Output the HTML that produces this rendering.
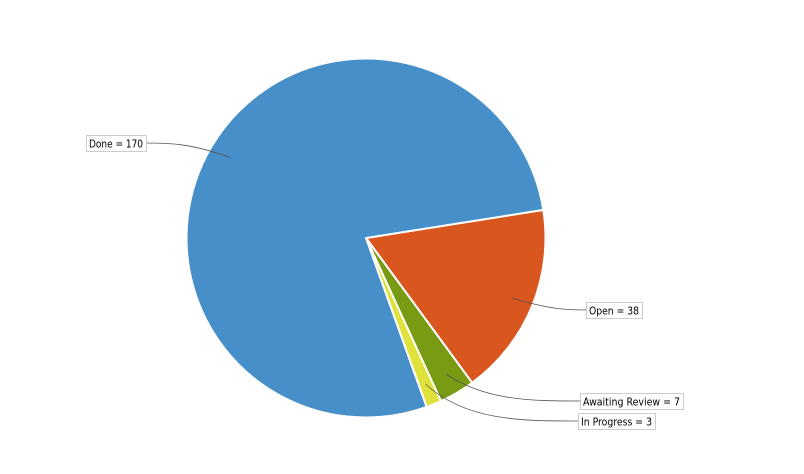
<!DOCTYPE html>
<html><head><meta charset="utf-8"><style>
body{margin:0;background:#fff}
svg{display:block}
text{font-family:"DejaVu Sans","Liberation Sans",sans-serif;font-size:11px;fill:#000}
</style></head><body>
<svg id="chart" width="804" height="474" viewBox="0 0 804 474">
<rect width="804" height="474" fill="#fff"/>
</svg>
<script>
const categories = ["Open", "Awaiting Review", "In Progress", "Done"];
const values = [38, 7, 3, 170];
const colors = ["#d9561e", "#799a13", "#dfe23a", "#478fc8"];
const labelBoxes = [[586,302,56],[580,393,103],[578,413,77],[86,135,60]];
const anchorFrac = 0.88;
const svg = document.getElementById('chart');
const NS = 'http://www.w3.org/2000/svg';
const cx = 366, cy = 238, r = 179.5;
const total = values.reduce((a,b)=>a+b,0);
let a = 9 * Math.PI/180;
const pt = (ang, rad) => [cx + rad*Math.cos(ang), cy - rad*Math.sin(ang)];
values.forEach((v,i)=>{
  const sweep = v/total*2*Math.PI;
  const a2 = a - sweep;
  const p1 = pt(a, r), p2 = pt(a2, r);
  const large = sweep > Math.PI ? 1 : 0;
  const path = document.createElementNS(NS,'path');
  path.setAttribute('d', `M${cx},${cy} L${p1[0]},${p1[1]} A${r},${r} 0 ${large} 1 ${p2[0]},${p2[1]} Z`);
  path.setAttribute('fill', colors[i]);
  path.setAttribute('stroke', '#fff');
  path.setAttribute('stroke-width', '2');
  
  
  svg.appendChild(path);
  const mid = a - sweep/2;
  const an = pt(mid, r*anchorFrac);
  const [bx, by, bw] = labelBoxes[i];
  const left = bx > cx;
  const ex = left ? bx : bx + bw, ey = by + 8;
  const c1x = an[0] + (left ? 40 : -40);
  const line = document.createElementNS(NS,'path');
  line.setAttribute('d', `M${an[0]},${an[1]} C${c1x},${ey} ${(c1x+ex)/2},${ey} ${ex},${ey}`);
  line.setAttribute('fill', 'none');
  line.setAttribute('stroke', '#555');
  line.setAttribute('stroke-width', '0.8');
  
  
  svg.appendChild(line);
  const box = document.createElementNS(NS,'rect');
  box.setAttribute('x', bx+0.5); box.setAttribute('y', by+0.5);
  box.setAttribute('width', bw); box.setAttribute('height', 16);
  box.setAttribute('fill', '#fff'); box.setAttribute('stroke', '#ccc');
  
  
  svg.appendChild(box);
  const t = document.createElementNS(NS,'text');
  t.setAttribute('x', bx+3); t.setAttribute('y', by+12.5);
  t.setAttribute('textLength', bw-6);
  t.setAttribute('lengthAdjust', 'spacingAndGlyphs');
  t.textContent = categories[i] + ' = ' + v;
  
  
  svg.appendChild(t);
  a = a2;
});
</script>
</body></html>
